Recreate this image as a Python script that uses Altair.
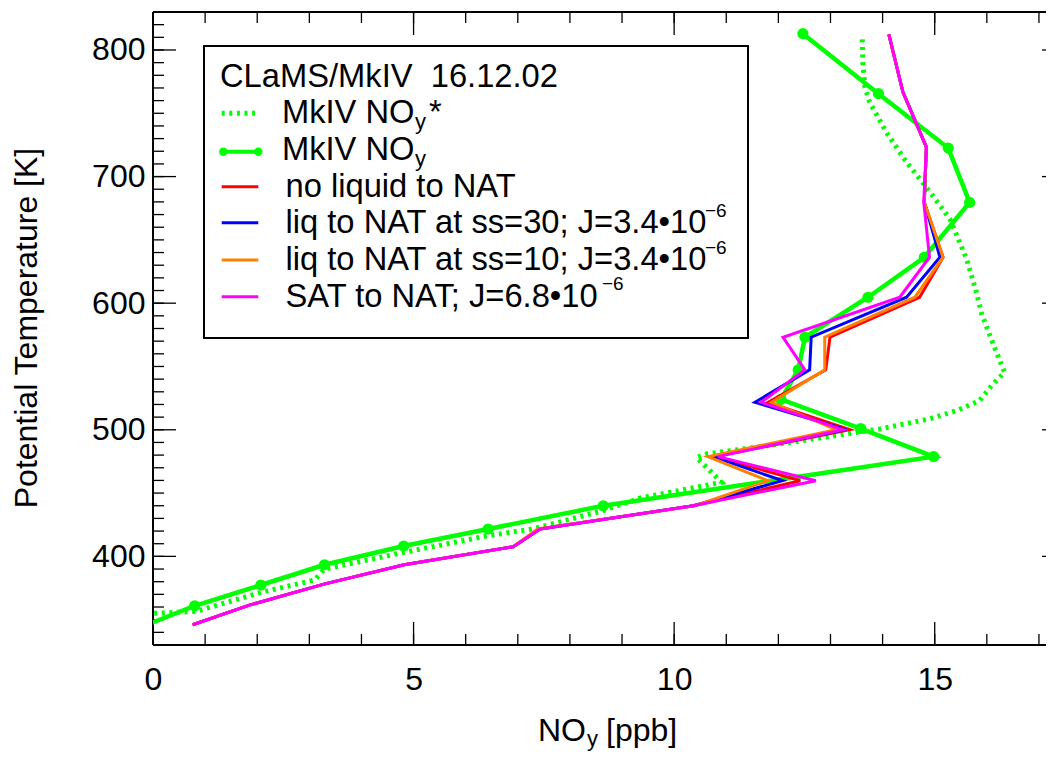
import altair as alt
import pandas as pd

# ---------------- data ----------------
# MkIV NOy (solid green with dots), top -> bottom
mk_theta = [812.9, 765.5, 722.5, 679.6, 636.3, 604.7, 573.1, 547.3, 524.0, 501.0,
            478.8, 440.0, 421.6, 408.2, 393.4, 377.4, 361.0, 346.2]
mk_noy = [12.47, 13.92, 15.26, 15.67, 14.80, 13.72, 12.51, 12.38, 12.05, 13.58,
          14.98, 8.64, 6.43, 4.81, 3.29, 2.07, 0.80, -0.10]
mk_dot_count = 17  # last vertex lies outside the frame (no dot)

# MkIV NOy* (dotted green), top -> bottom
star_theta = [808.4, 790.5, 770.7, 758.9, 735.1, 711.4, 687.7, 666.7, 635.1, 608.7,
              591.6, 567.9, 545.4, 536.2, 523.0, 515.1, 508.6, 500.7, 488.8, 480.9,
              478.2, 458.5, 446.0, 436.1, 421.6, 416.3, 403.1, 390.0, 381.3, 371.5,
              356.5, 355.0]
star_noy = [13.61, 13.62, 13.66, 13.75, 14.07, 14.46, 14.91, 15.29, 15.61, 15.80,
            15.90, 16.12, 16.34, 16.12, 15.86, 15.42, 14.90, 13.95, 12.03, 10.62,
            10.43, 10.91, 9.34, 8.64, 7.28, 6.43, 4.81, 3.29, 3.10, 2.07,
            0.82, 0.00]

# CLaMS model runs, common levels
mod_theta = [812.4, 766.8, 723.3, 679.8, 636.3, 604.7, 573.1, 547.3, 521.7, 500.1,
             478.8, 459.8, 440.0, 421.6, 407.6, 393.4, 378.1, 361.5, 346.0]
red_noy = [14.12, 14.39, 14.84, 14.80, 15.16, 14.71, 12.99, 12.91, 11.80, 13.37,
           10.78, 12.42, 10.37, 7.43, 6.91, 4.82, 3.28, 1.85, 0.76]
blue_noy = [14.12, 14.39, 14.84, 14.80, 15.10, 14.46, 12.63, 12.60, 11.55, 13.30,
            10.75, 12.08, 10.37, 7.42, 6.91, 4.82, 3.28, 1.85, 0.76]
orange_noy = [14.12, 14.39, 14.84, 14.80, 15.16, 14.62, 12.89, 12.89, 11.87, 13.11,
              10.65, 11.80, 10.40, 7.38, 6.91, 4.82, 3.28, 1.85, 0.76]
magenta_noy = [14.12, 14.39, 14.84, 14.79, 14.90, 14.33, 12.09, 12.51, 11.67, 13.24,
               10.84, 12.72, 10.37, 7.43, 6.91, 4.82, 3.28, 1.85, 0.76]

# axis ticks / labels
x_major = [0, 5, 10, 15]
x_minor = list(range(0, 18))
y_major = [400, 500, 600, 700, 800]
y_minor = list(range(330, 831, 10))

legend_title = "CLaMS/MkIV\u00a0 16.12.02"
legend_labels = ["no liquid to NAT",
                 "liq to NAT at ss=30; J=3.4\u202210",
                 "liq to NAT at ss=10; J=3.4\u202210",
                 "SAT to NAT; J=6.8\u202210"]
legend_sup = ["", "\u22126", "\u22126", "\u22126"]

# ---------------- styling ----------------
FONT = "Liberation Sans"
GREEN = "#00ff00"
RED = "#ff0000"
BLUE = "#0000ff"
ORANGE = "#ff8000"
MAGENTA = "#ff00ff"
W, H = 893, 633
PX_PER_UNIT = 912 / 17.5
xs = alt.Scale(domain=[0, W / PX_PER_UNIT], nice=False, zero=False)
ys = alt.Scale(domain=[330, 830], nice=False, zero=False)

x_axis = alt.Axis(values=x_major, title=None, ticks=False, tickSize=0, domain=False,
                  grid=False, labelFontSize=32, labelFont=FONT, labelColor="black",
                  labelPadding=19, labelFlush=False, labelOverlap=False, format="d")
y_axis = alt.Axis(values=y_major, title=None, ticks=False, tickSize=0, domain=False,
                  grid=False, labelFontSize=32, labelFont=FONT, labelColor="black",
                  labelPadding=8, labelOverlap=False, format="d")
XE = alt.X("noy:Q", scale=xs, axis=x_axis)
YE = alt.Y("theta:Q", scale=ys, axis=y_axis)


def prof(x, y):
    return pd.DataFrame({"noy": x, "theta": y, "i": list(range(len(x)))})


one = pd.DataFrame({"a": [0]})
layers = []

# frame (left, top, bottom; the right side lies just beyond the picture)
for kw in (dict(x=alt.value(0), y=alt.value(0), y2=alt.value(H)),
           dict(x=alt.value(0), x2=alt.value(W), y=alt.value(0)),
           dict(x=alt.value(0), x2=alt.value(W), y=alt.value(H))):
    layers.append(alt.Chart(one).mark_rule(color="black", strokeWidth=2).encode(**kw))

# tick marks drawn inward
for vals, ln in ((x_minor, 11), (x_major, 23)):
    d = pd.DataFrame({"noy": vals})
    layers.append(alt.Chart(d).mark_rule(color="black", strokeWidth=1.3).encode(
        x=XE, y=alt.value(H), y2=alt.value(H - ln)))
    layers.append(alt.Chart(d).mark_rule(color="black", strokeWidth=1.3).encode(
        x=XE, y=alt.value(0), y2=alt.value(ln)))
for vals, ln in ((y_minor, 11), (y_major, 23)):
    d = pd.DataFrame({"theta": vals})
    layers.append(alt.Chart(d).mark_rule(color="black", strokeWidth=1.3).encode(
        y=YE, x=alt.value(0), x2=alt.value(ln)))
# stubs of the right-hand axis ticks that reach into the picture
layers.append(alt.Chart(pd.DataFrame({"theta": y_major})).mark_rule(
    color="black", strokeWidth=1.3).encode(y=YE, x=alt.value(W - 4), x2=alt.value(W)))

# data lines
layers.append(alt.Chart(prof(star_noy, star_theta)).mark_line(
    color=GREEN, strokeWidth=5, strokeDash=[3, 4.6], clip=True).encode(
    x=XE, y=YE, order="i:Q"))
layers.append(alt.Chart(prof(mk_noy, mk_theta)).mark_line(
    color=GREEN, strokeWidth=4.5, clip=True).encode(x=XE, y=YE, order="i:Q"))
layers.append(alt.Chart(prof(mk_noy[:mk_dot_count], mk_theta[:mk_dot_count])).mark_circle(
    color=GREEN, size=125, opacity=1, clip=True).encode(x=XE, y=YE))
for vals, col in ((red_noy, RED), (blue_noy, BLUE), (orange_noy, ORANGE), (magenta_noy, MAGENTA)):
    layers.append(alt.Chart(prof(vals, mod_theta)).mark_line(
        color=col, strokeWidth=3, clip=True).encode(x=XE, y=YE, order="i:Q"))

# ---------------- legend ----------------
LFS = 32.7


def txt(s, x, y, size=LFS, align="left"):
    return alt.Chart(one).mark_text(text=s, align=align, baseline="alphabetic", font=FONT,
                                    fontSize=size, color="black").encode(
        x=alt.value(x), y=alt.value(y))


def seg(x1, x2, y, col, w, dash=None):
    kw = dict(color=col, strokeWidth=w)
    if dash:
        kw["strokeDash"] = dash
    return alt.Chart(one).mark_rule(**kw).encode(x=alt.value(x1), x2=alt.value(x2), y=alt.value(y))


def dot(x, y, col, size):
    return alt.Chart(one).mark_circle(color=col, size=size, opacity=1).encode(
        x=alt.value(x), y=alt.value(y))


layers.append(alt.Chart(one).mark_rect(fill="white", stroke="black", strokeWidth=2).encode(
    x=alt.value(51), x2=alt.value(595), y=alt.value(34), y2=alt.value(326)))
layers.append(txt(legend_title, 67, 74.7))
LX1, LX2, TX = 68.7, 105.3, 132.5
# dotted MkIV NOy*
layers.append(seg(LX1, LX2, 101.3, GREEN, 5, [3, 4.6]))
layers.append(txt("MkIV NO", 261.5, 111.3, align="right"))
layers.append(txt("y", 262, 117.4, size=22))
layers.append(txt("*", 276, 111.3))
# solid MkIV NOy
layers.append(seg(LX1 + 1.6, LX2, 139.7, GREEN, 4))
layers.append(dot(LX1 + 1.6, 139.7, GREEN, 70))
layers.append(dot(LX2, 139.7, GREEN, 70))
layers.append(txt("MkIV NO", 261.5, 148, align="right"))
layers.append(txt("y", 262, 154, size=22))
# model runs (superscript placed right after the "10")
sup_x = [None, 552, 552, 449]
for lab, sup, sx, col, ly, by in zip(legend_labels, legend_sup, sup_x,
                                     (RED, BLUE, ORANGE, MAGENTA),
                                     (174.7, 210.7, 248, 284.7), (184.7, 221.3, 258, 294.7)):
    layers.append(seg(LX1, LX2, ly, col, 3))
    layers.append(txt(lab, TX, by))
    if sup:
        layers.append(txt(sup, sx, by - 16.3, size=19))

# axis titles
layers.append(alt.Chart(one).mark_text(text="Potential Temperature [K]", align="center",
                                        baseline="alphabetic", font=FONT, fontSize=32,
                                        color="black", angle=270).encode(
    x=alt.value(-116), y=alt.value(316)))
layers.append(txt("NO", 433, 729, size=32, align="right"))
layers.append(txt("y", 434, 733.5, size=22))
layers.append(txt("[ppb]", 453, 729, size=32))

chart = alt.layer(*layers).properties(
    width=W, height=H,
    autosize=alt.AutoSizeParams(type="none"),
    padding={"left": 145, "top": 4, "right": 0, "bottom": 106},
    background="white",
).configure_view(stroke=None)

chart.save("out.html", embed_options={"renderer": "svg", "actions": False})
